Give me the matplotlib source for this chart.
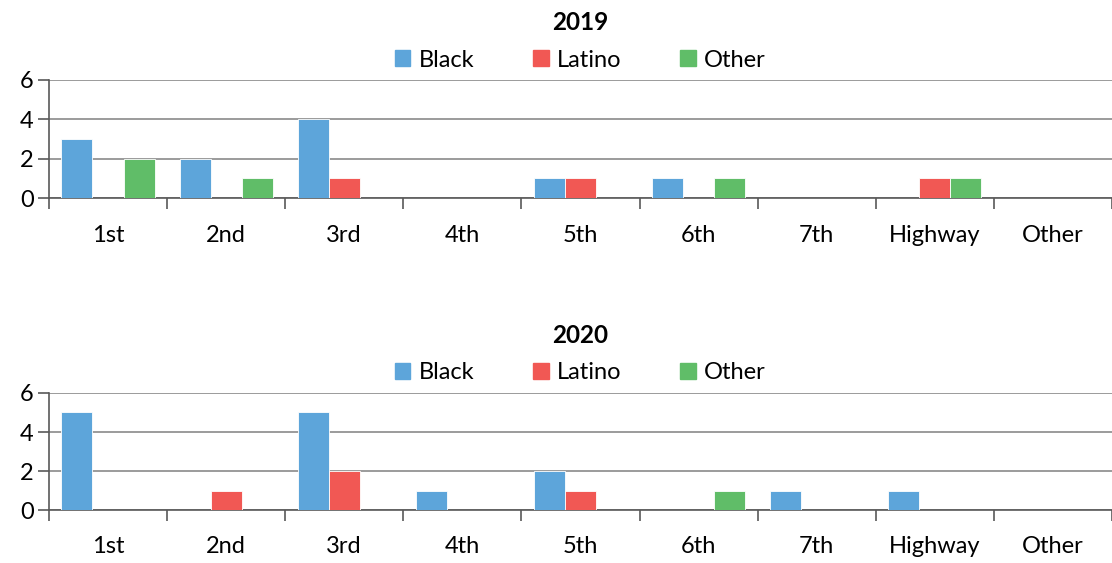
import numpy as np
import matplotlib.pyplot as plt
from matplotlib.patches import Patch

plt.rcParams['font.family'] = ['Lato', 'DejaVu Sans']

# Data
districts = ["1st", "2nd", "3rd", "4th", "5th", "6th", "7th", "Highway", "Other"]
black_2019 = [3, 2, 4, 0, 1, 1, 0, 0, 0]
latino_2019 = [0, 0, 1, 0, 1, 0, 0, 1, 0]
other_2019 = [2, 1, 0, 0, 0, 1, 0, 1, 0]
black_2020 = [5, 0, 5, 1, 2, 0, 1, 1, 0]
latino_2020 = [0, 1, 2, 0, 1, 0, 0, 0, 0]
other_2020 = [0, 0, 0, 0, 0, 1, 0, 0, 0]

colors = {"Black": "#5DA5DA", "Latino": "#F15854", "Other": "#60BD68"}

fig = plt.figure(figsize=(11.12, 5.63), dpi=100)
ax1 = fig.add_axes([0.044, 0.648, 0.956, 0.210])
ax2 = fig.add_axes([0.044, 0.094, 0.956, 0.208])

def draw(ax, year, black, latino, other):
    x = np.arange(len(districts)) + 0.5
    w = 0.263
    for off, vals, name in [(-w, black, "Black"), (0, latino, "Latino"), (w, other, "Other")]:
        ax.bar(x + off, vals, width=w, color=colors[name], edgecolor="white",
               linewidth=0.6, zorder=3)
    ax.set_xlim(0, len(districts))
    ax.set_ylim(0, 6)
    ax.set_yticks([0, 2, 4, 6])
    ax.yaxis.grid(True, color="#8a8a8a", linewidth=1.2, zorder=0)
    ax.set_xticks(np.arange(len(districts) + 1))
    ax.set_xticklabels([])
    ax.set_xticks(x, minor=True)
    ax.set_xticklabels(districts, minor=True)
    ax.tick_params(axis="x", which="major", length=8, width=1.2, color="#595959", direction="out")
    ax.tick_params(axis="x", which="minor", length=0, pad=19, labelsize=17)
    ax.tick_params(axis="y", length=8, width=1.2, color="#595959", labelsize=17, pad=3)
    for s in ["top", "right"]:
        ax.spines[s].set_visible(False)
    ax.spines["left"].set_color("#595959")
    ax.spines["left"].set_linewidth(1.2)
    ax.spines["bottom"].set_color("#595959")
    ax.spines["bottom"].set_linewidth(1.2)
    ax.set_title(year, fontsize=17.5, fontweight="bold", pad=36)
    handles = [Patch(color=colors[n], label=n) for n in ["Black", "Latino", "Other"]]
    ax.legend(handles=handles, loc="lower center", bbox_to_anchor=(0.5, 0.96), ncol=3,
              frameon=False, fontsize=17, handlelength=0.65, handleheight=0.65,
              handletextpad=0.35, columnspacing=2.5, borderpad=0.1)

draw(ax1, "2019", black_2019, latino_2019, other_2019)
draw(ax2, "2020", black_2020, latino_2020, other_2020)

fig.savefig("out.png", dpi=100)
